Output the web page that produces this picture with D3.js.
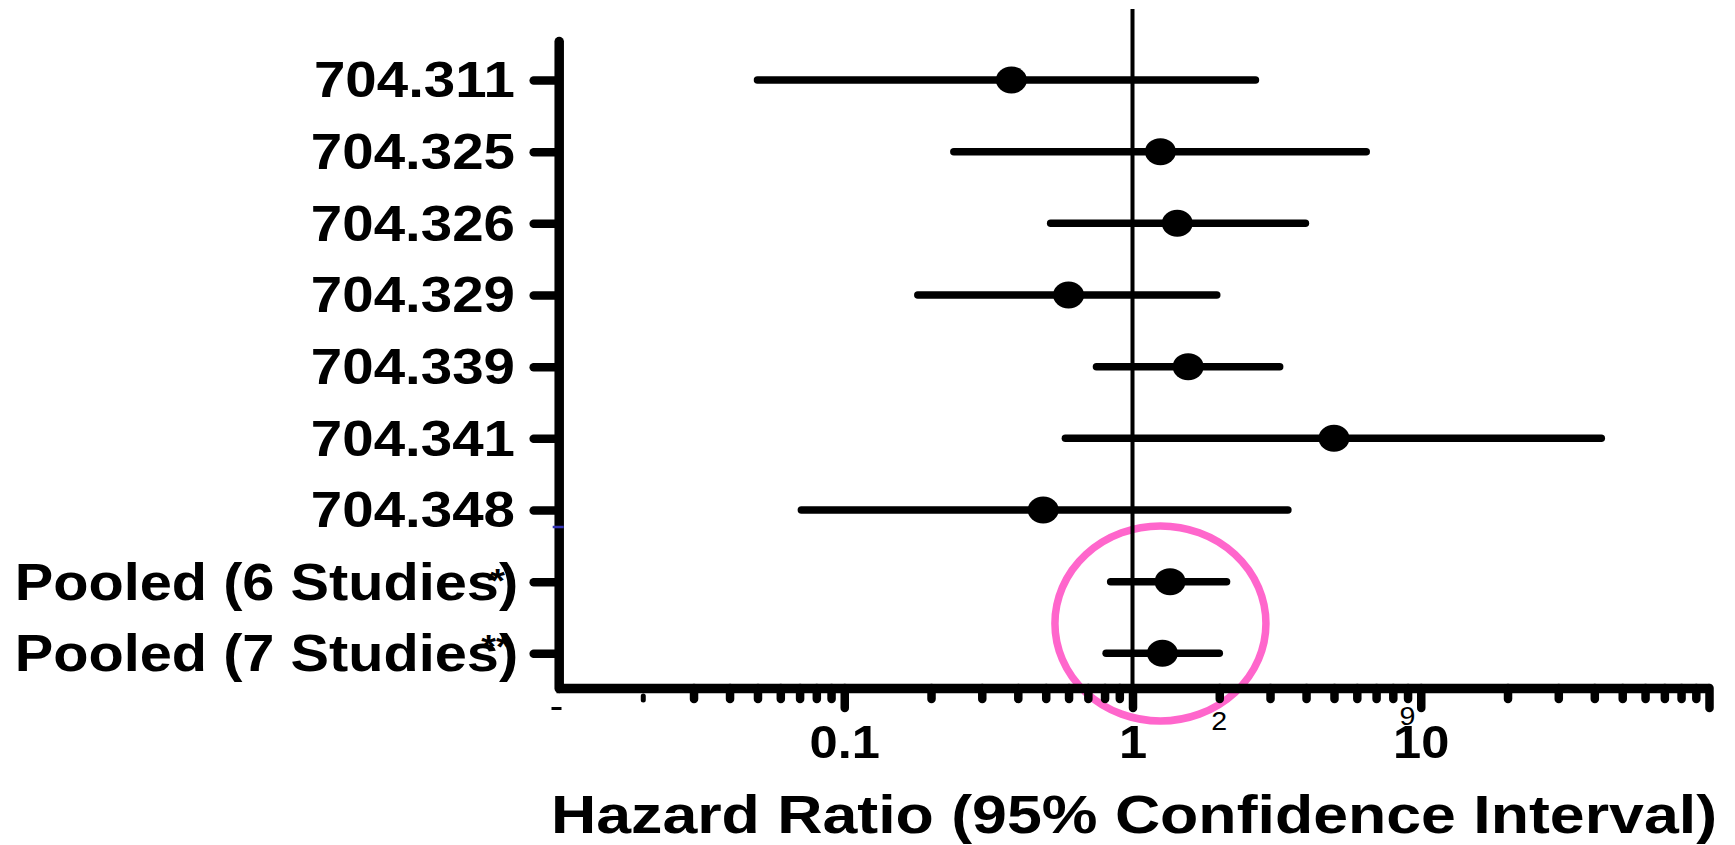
<!DOCTYPE html>
<html>
<head>
<meta charset="utf-8">
<script src="https://cdn.jsdelivr.net/npm/d3@7"></script>
<style>
    body { margin: 0; background: #fff; }
    svg { display: block; }
    text { font-family: "Liberation Sans", Arial, sans-serif; fill: #000; }
</style>
</head>
<body>
<div id="chart"></div>
<script>
//DATA
var studies = ["704.311", "704.325", "704.326", "704.329", "704.339", "704.341", "704.348",
    "Pooled (6 Studies*)", "Pooled (7 Studies**)"];
var hazardRatio = [0.38, 1.25, 1.43, 0.60, 1.56, 5.0, 0.49, 1.35, 1.27];
var ciLower = [0.050, 0.24, 0.52, 0.18, 0.75, 0.585, 0.071, 0.84, 0.81];
var ciUpper = [2.67, 6.47, 3.98, 1.96, 3.24, 42.3, 3.46, 2.12, 2.0];

//log axis ticks
var majorTicks = [0.01, 0.1, 1, 10, 100];
var majorTickLabels = ["", "0.1", "1", "10", ""];
var minorTicks = [0.02, 0.03, 0.04, 0.05, 0.06, 0.07, 0.08, 0.09,
    0.2, 0.3, 0.4, 0.5, 0.6, 0.7, 0.8, 0.9,
    2, 3, 4, 5, 6, 7, 8, 9,
    20, 30, 40, 50, 60, 70, 80, 90];
//the two stray minor labels printed in the original
var strayTickValues = [2, 9];
var strayTickLabels = ["2", "9"];

var xTitle = "Hazard Ratio (95% Confidence Interval)";

//highlight ring drawn round the pooled estimates
var ringCentreHR = 1.25;

/* SETUP */
var width = 1735, height = 845;
var axisY = 688, axisX = 558.7;

var svg = d3.select('#chart').append('svg')
    .attr('width', width)
    .attr('height', height);

var x = d3.scaleLog().domain([0.01, 100]).range([556, 1709]);
var y = d3.scalePoint().domain(studies).range([41, axisY]).padding(0.514).align(0.529);

/* HIGHLIGHT RING (under everything else) */
var ringY = (y(studies[7]) + y(studies[8])) / 2 + 6;
svg.append('ellipse')
    .attr('cx', x(ringCentreHR))
    .attr('cy', ringY)
    .attr('rx', 105.5)
    .attr('ry', 97.5)
    .attr('fill', 'none')
    .attr('stroke', '#ff66cc')
    .attr('stroke-width', 7.5);

/* LINE OF NO EFFECT */
svg.append('line')
    .attr('x1', x(1)).attr('x2', x(1))
    .attr('y1', 9).attr('y2', axisY)
    .attr('stroke', '#000')
    .attr('stroke-width', 4);

/* CONFIDENCE INTERVALS + ESTIMATES */
var rows = svg.append('g').selectAll('g')
    .data(studies).enter()
    .append('g');

rows.append('line')
    .attr('x1', function (d, i) { return x(ciLower[i]); })
    .attr('x2', function (d, i) { return x(ciUpper[i]); })
    .attr('y1', function (d) { return y(d); })
    .attr('y2', function (d) { return y(d); })
    .attr('stroke', '#000')
    .attr('stroke-width', 7.5)
    .attr('stroke-linecap', 'round');

rows.append('ellipse')
    .attr('cx', function (d, i) { return x(hazardRatio[i]); })
    .attr('cy', function (d) { return y(d); })
    .attr('rx', 15.5)
    .attr('ry', 13.5)
    .attr('fill', '#000');

/* X AXIS */
var xMinorAxis = d3.axisBottom(x).tickValues(minorTicks).tickSize(11).tickSizeOuter(0).tickFormat("");
var xMajorAxis = d3.axisBottom(x).tickValues(majorTicks).tickSize(20).tickSizeOuter(0)
    .tickFormat(function (d, i) { return majorTickLabels[i]; });

var xMinorG = svg.append('g').attr('transform', 'translate(0,' + axisY + ')').call(xMinorAxis);
xMinorG.select('.domain').remove();

var xMajorG = svg.append('g').attr('transform', 'translate(0,' + axisY + ')').call(xMajorAxis);

svg.selectAll('.tick line')
    .attr('stroke', '#000')
    .attr('stroke-width', 8.5)
    .attr('stroke-linecap', 'round');

//the original prints the first two ticks only as small broken marks
xMajorG.selectAll('.tick').filter(function (d) { return d === 0.01; }).select('line')
    .attr('x1', -5).attr('x2', 5)
    .attr('y1', 20.5).attr('y2', 20.5)
    .attr('stroke-width', 3)
    .attr('stroke-linecap', 'butt');
xMinorG.selectAll('.tick').filter(function (d) { return d === 0.02; }).select('line')
    .attr('y1', 8).attr('y2', 12)
    .attr('stroke-width', 5);

xMajorG.select('.domain')
    .attr('stroke', '#000')
    .attr('stroke-width', 9.5);

xMajorG.selectAll('.tick text')
    .attr('y', 70)
    .attr('dy', null)
    .attr('font-size', 46)
    .attr('font-weight', 'bold')
    .attr('font-family', '"Liberation Sans", Arial, sans-serif')
    .attr('fill', '#000')
    .attr('transform', 'scale(1.1,1)');

//stray little minor labels
svg.append('g').selectAll('text')
    .data(strayTickValues).enter()
    .append('text')
    .attr('transform', function (d, i) {
        return 'translate(' + x(d) + ',' + (axisY + (i === 0 ? 42 : 37)) + ') scale(1.1,1)';
    })
    .attr('text-anchor', 'middle')
    .attr('font-size', 26)
    .text(function (d, i) { return strayTickLabels[i]; });

/* Y AXIS */
var yAxis = d3.axisLeft(y).tickSize(25).tickSizeOuter(0);
var yG = svg.append('g').attr('transform', 'translate(' + axisX + ',0)').call(yAxis);

yG.select('.domain')
    .attr('stroke', '#000')
    .attr('stroke-width', 9.5)
    .attr('stroke-linecap', 'round');

yG.selectAll('.tick line')
    .attr('stroke', '#000')
    .attr('stroke-width', 8.5)
    .attr('stroke-linecap', 'round');

yG.selectAll('.tick text')
    .attr('x', -38.7)
    .attr('dy', '0.34em')
    .attr('font-size', 50)
    .attr('font-weight', 'bold')
    .attr('font-family', '"Liberation Sans", Arial, sans-serif')
    .attr('fill', '#000')
    .attr('transform', 'scale(1.13,1)');

//pooled labels: footnote stars sit raised over the final "s"
yG.selectAll('.tick text').each(function (d) {
    var m = d.match(/^(.*?)(\*+)\)$/);
    if (!m) return;
    var t = d3.select(this).text(null)
        .attr('font-size', 52)
        .attr('x', -36.5)
        .attr('transform', 'scale(1.11,1)');
    var starW = 13.2 * m[2].length;
    var rise = m[2].length === 1 ? -8 : -13;
    t.append('tspan').text(m[1]);
    t.append('tspan')
        .attr('font-size', 34)
        .attr('dx', -0.6 * starW)
        .attr('dy', rise)
        .text(m[2]);
    t.append('tspan')
        .attr('dx', -0.4 * starW)
        .attr('dy', -rise)
        .text(')');
});

//tiny blue mark across the y axis in the original
svg.append('line')
    .attr('x1', axisX - 6).attr('x2', axisX + 5)
    .attr('y1', 527).attr('y2', 527)
    .attr('stroke', '#3535b8')
    .attr('stroke-width', 2.5);

/* AXIS TITLE */
svg.append('text')
    .attr('x', 1134)
    .attr('y', 833)
    .attr('text-anchor', 'middle')
    .attr('font-size', 54)
    .attr('font-weight', 'bold')
    .attr('textLength', 1166)
    .attr('lengthAdjust', 'spacingAndGlyphs')
    .text(xTitle);
</script>
</body>
</html>
